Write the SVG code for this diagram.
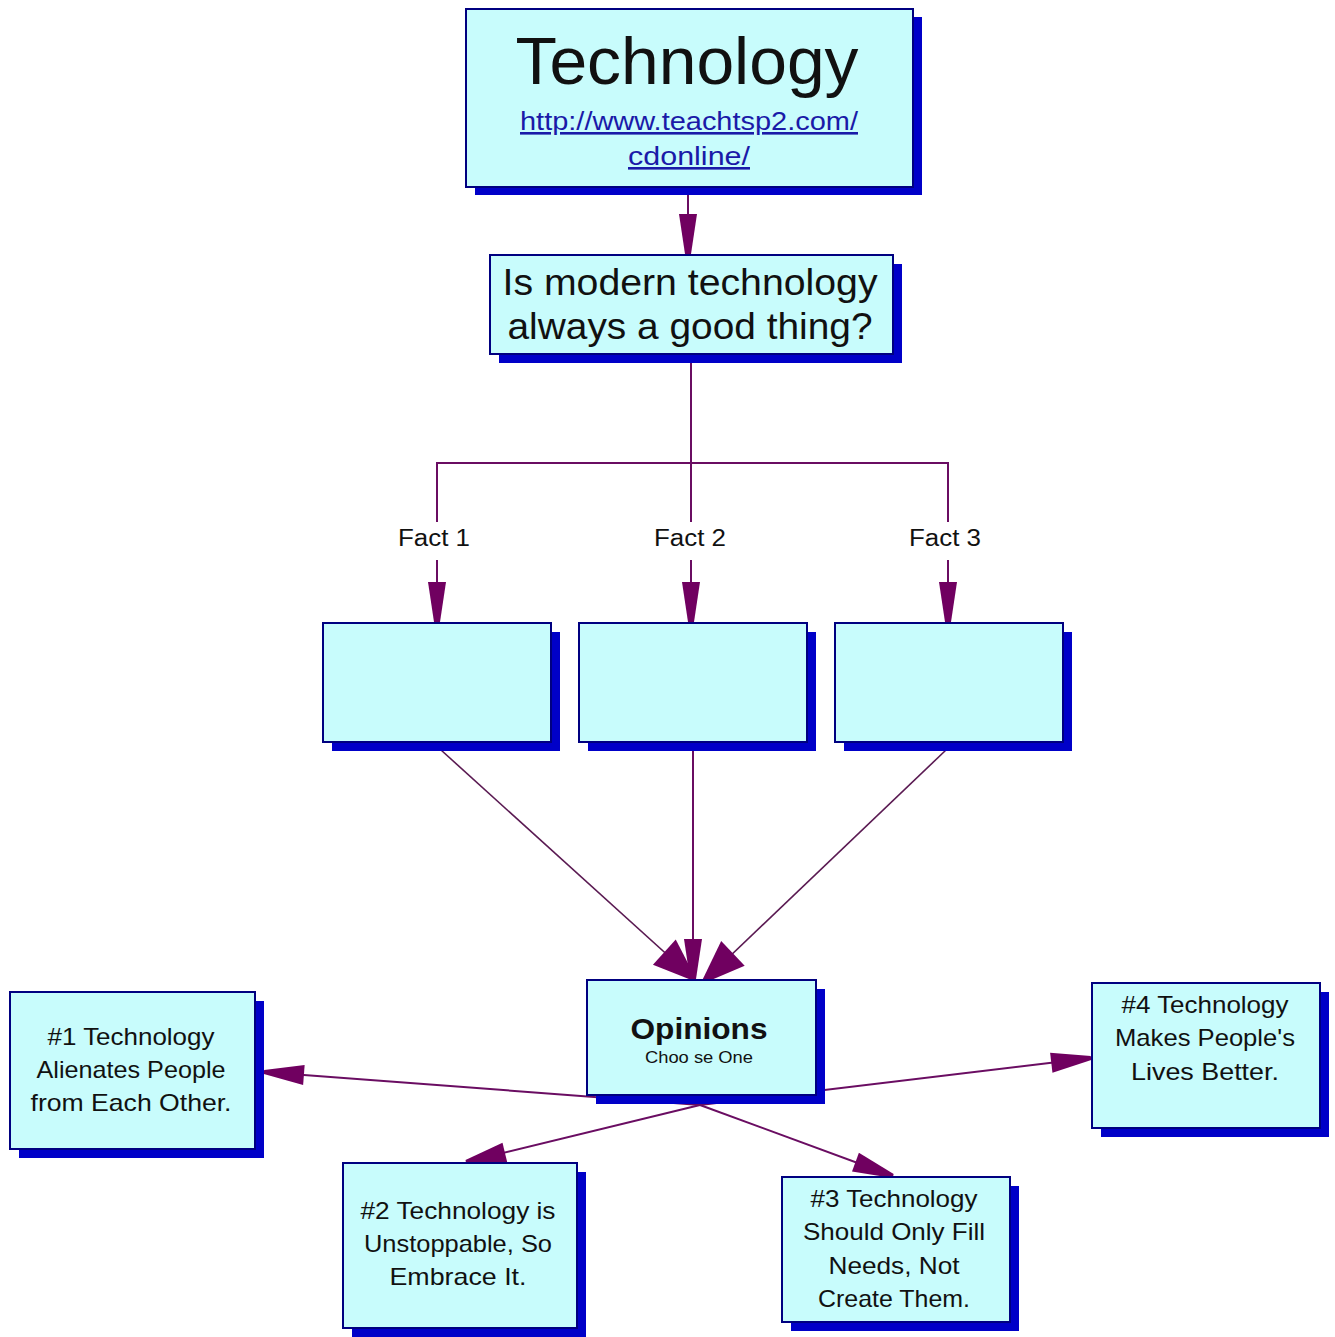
<svg xmlns="http://www.w3.org/2000/svg" width="1335" height="1337" viewBox="0 0 1335 1337">
<defs>
<style>
.box{fill:#c8fcfc;stroke:#000080;stroke-width:2}
.sh{fill:#0000c8}
.t{font-family:"Liberation Sans",Arial,sans-serif;fill:#111;text-anchor:middle}
.bx{font-size:24px}
.link{font-family:"Liberation Sans",Arial,sans-serif;fill:#1a1aa8;text-anchor:middle;font-size:26px;text-decoration:underline}
.c{fill:none;stroke:#6a0d62;stroke-width:2}
.cd{fill:none;stroke:#5a1a52;stroke-width:1.6}
</style>
<marker id="ahN" markerUnits="userSpaceOnUse" orient="auto" refX="0" refY="0" markerWidth="1" markerHeight="1" overflow="visible">
<path d="M-40,-9 L0,-3 L0,3 L-40,9 z" fill="#700060"/>
</marker>
<marker id="ahW" markerUnits="userSpaceOnUse" orient="auto" refX="0" refY="0" markerWidth="1" markerHeight="1" overflow="visible">
<path d="M-40,-17 L0,-2 L0,2 L-40,17 z" fill="#700060"/>
</marker>
<marker id="ahO" markerUnits="userSpaceOnUse" orient="auto" refX="0" refY="0" markerWidth="1" markerHeight="1" overflow="visible">
<path d="M-40,-10 L0,-2 L0,2 L-40,10 z" fill="#700060"/>
</marker>
</defs>
<rect width="1335" height="1337" fill="#ffffff"/>

<g id="connectors">
<line class="c" x1="688" y1="190" x2="688" y2="254" marker-end="url(#ahN)"/>
<polyline class="c" points="691,356 691,463"/>
<polyline class="c" points="437,522 437,463 948,463 948,522"/>
<line class="c" x1="691" y1="463" x2="691" y2="522"/>
<line class="c" x1="437" y1="560" x2="437" y2="622" marker-end="url(#ahN)"/>
<line class="c" x1="691" y1="560" x2="691" y2="622" marker-end="url(#ahN)"/>
<line class="c" x1="948" y1="560" x2="948" y2="622" marker-end="url(#ahN)"/>
<line class="cd" x1="441" y1="750" x2="694" y2="979" marker-end="url(#ahW)"/>
<line class="c" x1="693" y1="750" x2="693" y2="979" marker-end="url(#ahN)"/>
<line class="cd" x1="946" y1="750" x2="704" y2="981" marker-end="url(#ahW)"/>
<line class="c" x1="700" y1="1105" x2="264" y2="1072" marker-end="url(#ahO)"/>
<line class="c" x1="700" y1="1105" x2="1091" y2="1058" marker-end="url(#ahO)"/>
<line class="c" x1="700" y1="1105" x2="466" y2="1162" marker-end="url(#ahO)"/>
<line class="c" x1="700" y1="1105" x2="893" y2="1176" marker-end="url(#ahO)"/>
</g>

<g id="node-technology">
<rect class="sh" x="475" y="17" width="447" height="178"/>
<rect class="box" x="466" y="9" width="447" height="178"/>
<text class="t" x="687" y="84" font-size="66" textLength="343" lengthAdjust="spacingAndGlyphs">Technology</text>
<text class="link" x="689" y="130" textLength="338" lengthAdjust="spacingAndGlyphs">http://www.teachtsp2.com/</text>
<text class="link" x="689" y="165" textLength="122" lengthAdjust="spacingAndGlyphs">cdonline/</text>
</g>

<g id="node-question">
<rect class="sh" x="499" y="264" width="403" height="99"/>
<rect class="box" x="490" y="255" width="403" height="99"/>
<text class="t" x="690" y="295" font-size="36" textLength="375" lengthAdjust="spacingAndGlyphs">Is modern technology</text>
<text class="t" x="690" y="339" font-size="36" textLength="365" lengthAdjust="spacingAndGlyphs">always a good thing?</text>
</g>

<g id="labels">
<text class="t" x="434" y="546" font-size="23" textLength="72" lengthAdjust="spacingAndGlyphs">Fact 1</text>
<text class="t" x="690" y="546" font-size="23" textLength="72" lengthAdjust="spacingAndGlyphs">Fact 2</text>
<text class="t" x="945" y="546" font-size="23" textLength="72" lengthAdjust="spacingAndGlyphs">Fact 3</text>
</g>

<g id="node-fact1">
<rect class="sh" x="332" y="632" width="228" height="119"/>
<rect class="box" x="323" y="623" width="228" height="119"/>
</g>
<g id="node-fact2">
<rect class="sh" x="588" y="632" width="228" height="119"/>
<rect class="box" x="579" y="623" width="228" height="119"/>
</g>
<g id="node-fact3">
<rect class="sh" x="844" y="632" width="228" height="119"/>
<rect class="box" x="835" y="623" width="228" height="119"/>
</g>

<g id="node-opinions">
<rect class="sh" x="596" y="989" width="229" height="115"/>
<rect class="box" x="587" y="980" width="229" height="115"/>
<text class="t" x="699" y="1039" font-size="30" font-weight="bold" textLength="137" lengthAdjust="spacingAndGlyphs">Opinions</text>
<text class="t" x="699" y="1063" font-size="16" textLength="108" lengthAdjust="spacingAndGlyphs">Choo se One</text>
</g>

<g id="node-op1">
<rect class="sh" x="19" y="1001" width="245" height="157"/>
<rect class="box" x="10" y="992" width="245" height="157"/>
<text class="t bx" x="131" y="1045" textLength="167" lengthAdjust="spacingAndGlyphs">#1 Technology</text>
<text class="t bx" x="131" y="1078" textLength="189" lengthAdjust="spacingAndGlyphs">Alienates People</text>
<text class="t bx" x="131" y="1111" textLength="201" lengthAdjust="spacingAndGlyphs">from Each Other.</text>
</g>

<g id="node-op2">
<rect class="sh" x="352" y="1172" width="234" height="165"/>
<rect class="box" x="343" y="1163" width="234" height="165"/>
<text class="t bx" x="458" y="1219" textLength="195" lengthAdjust="spacingAndGlyphs">#2 Technology is</text>
<text class="t bx" x="458" y="1252" textLength="188" lengthAdjust="spacingAndGlyphs">Unstoppable, So</text>
<text class="t bx" x="458" y="1285" textLength="137" lengthAdjust="spacingAndGlyphs">Embrace It.</text>
</g>

<g id="node-op3">
<rect class="sh" x="791" y="1186" width="228" height="145"/>
<rect class="box" x="782" y="1177" width="228" height="145"/>
<text class="t bx" x="894" y="1207" textLength="167" lengthAdjust="spacingAndGlyphs">#3 Technology</text>
<text class="t bx" x="894" y="1240" textLength="182" lengthAdjust="spacingAndGlyphs">Should Only Fill</text>
<text class="t bx" x="894" y="1274" textLength="131" lengthAdjust="spacingAndGlyphs">Needs, Not</text>
<text class="t bx" x="894" y="1307" textLength="152" lengthAdjust="spacingAndGlyphs">Create Them.</text>
</g>

<g id="node-op4">
<rect class="sh" x="1101" y="992" width="228" height="145"/>
<rect class="box" x="1092" y="983" width="228" height="145"/>
<text class="t bx" x="1205" y="1013" textLength="167" lengthAdjust="spacingAndGlyphs">#4 Technology</text>
<text class="t bx" x="1205" y="1046" textLength="180" lengthAdjust="spacingAndGlyphs">Makes People's</text>
<text class="t bx" x="1205" y="1080" textLength="148" lengthAdjust="spacingAndGlyphs">Lives Better.</text>
</g>
</svg>
